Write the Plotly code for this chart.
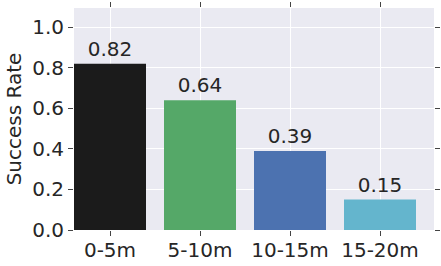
import plotly.graph_objects as go

categories = ["0-5m", "5-10m", "10-15m", "15-20m"]
success_rate = [0.82, 0.64, 0.39, 0.15]
colors = ["#1b1b1b", "#55a868", "#4c72b0", "#64b5cd"]
y_ticks = [0.0, 0.2, 0.4, 0.6, 0.8, 1.0]

FS = 20

fig = go.Figure()
fig.add_trace(go.Bar(
    x=list(range(len(categories))),
    y=success_rate,
    width=0.8,
    marker=dict(color=colors, line=dict(width=0)),
    text=[f"{v:.2f}" for v in success_rate],
    textposition="outside",
    textfont=dict(family="DejaVu Sans", size=FS, color="#262626"),
    cliponaxis=False,
    hoverinfo="skip",
))

axis_common = dict(
    showgrid=True, gridcolor="white", gridwidth=1,
    zeroline=False, showline=False,
    ticks="outside", ticklen=5, tickwidth=1, tickcolor="#444444",
    mirror="ticks", automargin=False,
    tickfont=dict(family="DejaVu Sans", size=FS, color="#262626"),
)

fig.update_layout(
    width=441, height=266,
    margin=dict(l=74, r=7, t=8, b=36),
    plot_bgcolor="#eaeaf2", paper_bgcolor="white",
    showlegend=False,
    uniformtext=dict(minsize=FS, mode="show"),
    xaxis=dict(
        **axis_common,
        range=[-0.4, 3.6],
        tickvals=list(range(len(categories))),
        ticktext=categories,
        ticklabelstandoff=-3,
    ),
    yaxis=dict(
        **axis_common,
        range=[0, 1.095],
        tickvals=y_ticks,
        ticktext=[f"{v:.1f}" for v in y_ticks],
        title=dict(text="Success Rate", font=dict(family="DejaVu Sans", size=FS, color="#262626"), standoff=5),
    ),
)

fig.write_html(
    "out.html",
    config={"displayModeBar": False},
    post_script="document.body.style.margin='0';document.body.style.overflow='hidden';",
)
